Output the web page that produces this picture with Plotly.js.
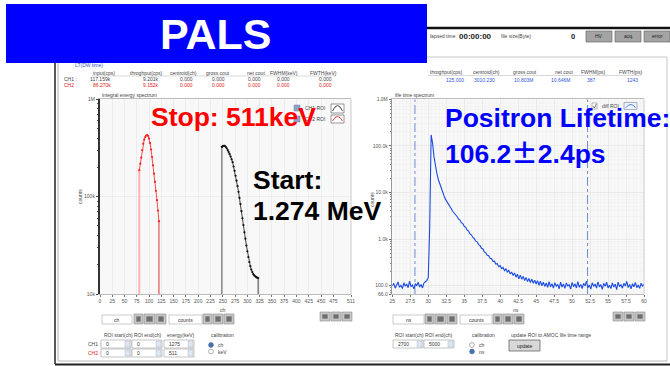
<!DOCTYPE html>
<html><head><meta charset="utf-8">
<script src="https://cdn.plot.ly/plotly-3.0.1.min.js"></script>
<style>html,body{margin:0;padding:0;background:#fff;}#c{width:670px;height:366px;}</style>
</head><body><div id="c"></div>
<script>
// ---------- data ----------
const chTicks = [0,25,50,75,100,125,150,175,200,225,250,275,300,325,350,375,400,425,450,475,511];
const nsTicks = [25,27.5,30,32.5,35,37.5,40,42.5,45,47.5,50,52.5,55,57.5,60];
const nsTickText = ['25','27.5','30','32.5','35','37.5','40','42.5','45','47.5','50','52.5','55','57.5','60'];
const ltTickVals = [66,100,1000,10000,100000,1000000];
const ltTickText = ['66.0','100.0','1.0k','10.0k','100.0k','1.0M'];
const enTickVals = [10000,100000,1000000];
const enTickText = ['10k','100k','1M'];

// CH2 (stop, 511 keV) ROI, channels 80..120, every 2 ch
const ch2Start = 80, chStep = 2;
const ch2Roi = [80,120];
const ch2Counts = [187000,218000,252000,300000,350000,385000,410000,425000,430000,420000,395000,355000,305000,255000,210000,172000,142000,115000,92000,72000,56000];
// CH1 (start, 1.274 MeV) ROI, channels 248..322, every 2 ch
const ch1Start = 248;
const ch1Roi = [248,322];
const ch1Counts = [324000,330000,333000,332000,325000,314000,300000,287000,273000,258000,242000,226000,204000,184000,164000,146000,128000,112000,97000,84000,71000,60000,51000,43000,37000,31500,27500,24000,21300,19300,17800,16800,16000,15500,15200,14900,14700,14600];

// life time spectrum, 25.0 .. 60.0 ns every 0.2 ns
const ltStart = 25, ltStep = 0.2;
const ltRoi = [28.15,52.15];
const ltCounts = [98,112,88,105,120,92,101,86,115,97,108,90,124,95,103,85,110,99,118,93,106,89,114,121,128,150,
1800,172000,115000,58000,36000,25500,19000,15200,12300,10100,
8400,7100,6200,5500,4850,4450,3950,3650,3250,3050,
2700,2550,2250,2150,1880,1790,1560,1480,1290,1230,
1080,1030,900,870,760,720,630,610,530,505,
450,440,385,380,330,335,290,295,255,268,
232,245,208,228,195,212,178,196,165,186,
152,175,140,168,136,158,128,150,122,142,
116,138,112,131,108,127,101,124,99,118,
96,114,92,121,94,110,88,116,97,106,
85,119,93,108,87,113,98,104,84,117,
95,109,89,122,92,106,86,112,99,125,
90,103,84,115,96,108,88,120,94,105,
83,111,97,118,89,102,86,114,93,107,
82,119,95,104,88,112,98,123,91,106,
85,110,94,117,90,103,87,113,96,108];

const headL = ['input(cps)','throghput(cps)','centroid(ch)','gross cout','net cout','FWHM(keV)','FWTH(keV)'];
const ch1Vals = ['117.159k','9.201k','0.000','0.000','0.000','0.000','0.000'];
const ch2Vals = ['86.270k','9.152k','0.000','0.000','0.000','0.000','0.000'];
const headR = ['throghput(cps)','centroid(ch)','gross cout','net cout','FWHM(ps)','FWTH(ps)'];
const valsR = ['125.000','3010.230','10.803M','10.646M','387','1243'];

// ---------- helpers (pixel -> paper) ----------
const W = 670, H = 366;
const fam = '"Liberation Sans", Arial, sans-serif';
const px = x => x / W, py = y => 1 - y / H;
const shapes = [], ann = [];
function rect(x0,y0,x1,y1,fill,lc,lw){shapes.push({type:'rect',xref:'paper',yref:'paper',x0:px(x0),x1:px(x1),y0:py(y1),y1:py(y0),fillcolor:fill,line:{color:lc||fill,width:lw===undefined?0.7:lw}});}
function seg(x0,y0,x1,y1,c,w,dash){shapes.push({type:'line',xref:'paper',yref:'paper',x0:px(x0),x1:px(x1),y0:py(y0),y1:py(y1),line:{color:c,width:w,dash:dash||'solid'}});}
function circ(cx,cy,r,fill,lc){shapes.push({type:'circle',xref:'paper',yref:'paper',x0:px(cx-r),x1:px(cx+r),y0:py(cy+r),y1:py(cy-r),fillcolor:fill,line:{color:lc,width:0.7}});}
function poly(pts,c,w){shapes.push({type:'path',xref:'paper',yref:'paper',path:'M'+pts.map(p=>px(p[0])+','+py(p[1])).join(' L'),line:{color:c,width:w}});}
function txt(x,y,s,size,color,anchor,bold,extra){const a={xref:'paper',yref:'paper',x:px(x),y:py(y),text:bold?'<b>'+s+'</b>':s,showarrow:false,xanchor:anchor||'left',yanchor:'middle',font:{family:fam,size:size,color:color||'#444'}};if(extra)Object.assign(a,extra);ann.push(a);}
function iconBtns(list,y0,y1){list.forEach(b=>{rect(b[0],y0,b[1],y1,'#c6c6c6','#8c8c8c',0.6);rect(b[0]+2.5,y0+2.5,b[1]-2.5,y1-2.5,'#6d6d6d','#6d6d6d',0.3);});}
function numBox(x0,x1,y0,y1,val){rect(x0,y0,x1,y1,'#ffffff','#a0a0a0',0.6);rect(x1-6,y0+1,x1-1,y1-1,'#dfe6f2','#9aa8c0',0.4);txt(x0+3,(y0+y1)/2,val,5,'#333');}

// ---------- GUI chrome ----------
seg(427,28,670,28,'#111',2.5);
txt(428,36.5,'lapsed time',5,'#444');
txt(457,36,'00:00:00',8,'#222','left',true);
txt(499,36.5,'file size(Byte)',5,'#444');
txt(569,36.5,'0',7.5,'#222','left',true);
[[586,612,'HV'],[615,641,'acq.'],[644,670,'error']].forEach(b=>{rect(b[0],31,b[1],42,'#a4a4a4','#6a6a6a',0.7);txt((b[0]+b[1])/2,36.5,b[2],5,'#222','center');});
seg(427,57,667,57,'#c8c8c8',1);
seg(667,57,667,361,'#c8c8c8',1);
seg(55,63,55,364,'#222',1.5);
seg(58,63,58,361,'#a0a0a0',0.8);
seg(58,361,667,361,'#b8b8b8',1);
seg(55,364.5,670,364.5,'#222',2);

// header table left
txt(73,65,'LT(DW time)',5,'#3355cc');
const hlx=[104,146,183,218,256,284,323];
const vlx=[113,161,195,227,263,292,334];
headL.forEach((h,i)=>txt(hlx[i],72.5,h,5,'#444','center'));
seg(92,76,336,76,'#b0b0b0',0.5);
txt(62,79.5,'CH1 :',5,'#444');
txt(62,85,'CH2 :',5,'#e02020');
ch1Vals.forEach((v,i)=>txt(vlx[i],79.5,v,5,'#444','right'));
ch2Vals.forEach((v,i)=>txt(vlx[i],85,v,5,'#e02020','right'));
// header table right
const hrx=[447,486.5,524.5,563.5,593,630.5];
const vrx=[466,497,535,572,598,640];
headR.forEach((h,i)=>txt(hrx[i],72,h,5,'#444','center'));
seg(428,75.5,641,75.5,'#b0b0b0',0.5);
valsR.forEach((v,i)=>txt(vrx[i],80,v,5,'#3355dd','right'));

// plot titles & axis titles
txt(100,95,'integral energy spectrum',5,'#444');
txt(393,95,'life time spectrum',5,'#444');
txt(80,197,'counts',5,'#444','center',false,{textangle:-90});
txt(372,200,'counts',5,'#444','center',false,{textangle:-90});
txt(223,309.5,'ch',5,'#444','center');
txt(516,309.5,'ns',5,'#444','center');

// legends
rect(294,105,300,111,'#8ea4c6','#6d84aa',0.5);
rect(294,116,300,122,'#8ea4c6','#6d84aa',0.5);
txt(303,108,'CH1 ROI',5,'#444');
txt(303,119,'CH2 ROI',5,'#444');
rect(331,104,344,113,'#ffffff','#555',0.6);
poly([[332.5,111],[335,107],[337.5,105.5],[340,107],[342.5,111]],'#111',0.8);
rect(331,115,344,123,'#ffffff','#555',0.6);
poly([[332.5,121],[335,117.5],[337.5,116.5],[340,117.5],[342.5,121]],'#e02020',0.8);
rect(592,103,597,109,'#ffffff','#777',0.5);
poly([[593,106],[594.3,108],[596.3,104]],'#333',0.6);
txt(600,106,'diff ROI',5,'#444');
rect(624,102.5,637,109.5,'#eef3fb','#7788aa',0.6);
poly([[625.5,108],[628.5,105],[631,104.5],[633.5,105.5],[635.5,108]],'#3366dd',0.8);

// controls under left plot
rect(102,315,132,324,'#fff','#a8a8a8',0.6); txt(117,319.5,'ch',5,'#333','center');
iconBtns([[134,143],[144,155],[156,166]],314,324);
rect(169,315,202,324,'#fff','#a8a8a8',0.6); txt(185.5,319.5,'counts',5,'#333','center');
iconBtns([[203,212],[213,223],[224,234]],314,324);
iconBtns([[320,330],[331,341],[342,352]],312,321);
txt(102,335,'ROI start(ch) ROI end(ch)',5,'#444');
txt(165,335,'energy(keV)',5,'#444');
txt(209,335,'calibration',5,'#444');
txt(86,344,'CH1 :',5,'#444');
txt(86,353,'CH2 :',5,'#e02020');
numBox(101,131,340,348,'0'); numBox(132,162,340,348,'0'); numBox(164,194,340,348,'1275');
numBox(101,131,349,357,'0'); numBox(132,162,349,357,'0'); numBox(164,194,349,357,'511');
circ(211,345,2.4,'#3f72b5','#56708f'); txt(215.5,345,'ch',5,'#444');
circ(211,351.5,2.4,'#ffffff','#8a8a8a'); txt(215.5,351.5,'keV',5,'#444');
// controls under right plot
rect(393,315,424,324,'#fff','#a8a8a8',0.6); txt(408.5,319.5,'ns',5,'#333','center');
iconBtns([[425,434],[435,446],[447,457]],314,324);
rect(460,315,492,324,'#fff','#a8a8a8',0.6); txt(476,319.5,'counts',5,'#333','center');
iconBtns([[493,502],[503,513],[514,524]],314,324);
iconBtns([[613,623],[624,634],[635,645]],312,321);
txt(393,335,'ROI start(ch) ROI end(ch)',5,'#444');
numBox(393,423,340,348,'2700'); numBox(424,454,340,348,'5000');
txt(470,335,'calibration',5,'#444');
circ(472,345,2.4,'#ffffff','#8a8a8a'); txt(476.5,345,'ch',5,'#444');
circ(472,351.5,2.4,'#3f72b5','#56708f'); txt(476.5,351.5,'ns',5,'#444');
txt(509,335,'update ROI to AMOC life time range',5,'#444');
rect(509,340,540,351,'#d8d8d8','#666',0.8); txt(524.5,345.5,'update',5,'#222','center');
// right borders of plots
seg(351,99.3,351,294,'#bdbdbd',0.8);
seg(644,99.3,644,294,'#bdbdbd',0.8);

// banner and big overlay texts
rect(6,4,427,63,'#0000ff','#0000ff',0);
txt(216,33.5,'PALS',43,'#ffffff','center',true);
txt(149,117,'Stop: 511keV',26.5,'#ff0000','left',true);
txt(251,179.5,'Start:',26.5,'#000000','left',true);
txt(251,211,'1.274 MeV',26.5,'#000000','left',true);
txt(443,118,'Positron Lifetime:',26.5,'#0000ff','left',true);
txt(443,151.5,'106.2<span style="font-family:\'Noto Sans CJK JP\'">±</span>2.4ps',26.5,'#0000ff','left',true);

// ---------- traces ----------
const traces = [
 {x:[ch2Roi[0],ch2Roi[0]], y:[1e4, ch2Counts[0]], mode:'lines', line:{color:'#ffb3b3',width:2}, xaxis:'x', yaxis:'y'},
 {x:[ch2Roi[1],ch2Roi[1]], y:[1e4, ch2Counts[ch2Counts.length-1]], mode:'lines', line:{color:'#e03030',width:1}, xaxis:'x', yaxis:'y'},
 {x:[ch1Roi[0],ch1Roi[0]], y:[1e4, ch1Counts[0]], mode:'lines', line:{color:'#808080',width:1.4}, xaxis:'x', yaxis:'y'},
 {x:[ch1Roi[1],ch1Roi[1]], y:[1e4, ch1Counts[ch1Counts.length-1]], mode:'lines', line:{color:'#606060',width:1.2}, xaxis:'x', yaxis:'y'},
 {x0:ch2Start, dx:chStep, y:ch2Counts, mode:'lines+markers', line:{color:'#ff2020',width:0.8}, marker:{color:'#ff2020',size:2.2}, xaxis:'x', yaxis:'y'},
 {x0:ch1Start, dx:chStep, y:ch1Counts, mode:'lines+markers', line:{color:'#111',width:0.8}, marker:{color:'#111',size:2.2}, xaxis:'x', yaxis:'y'},
 {x:[ltRoi[0],ltRoi[0]], y:[66,1e6], mode:'lines', line:{color:'#5b7fd0',width:0.9,dash:'dashdot'}, xaxis:'x2', yaxis:'y2'},
 {x:[ltRoi[1],ltRoi[1]], y:[66,1e6], mode:'lines', line:{color:'#5b7fd0',width:0.9,dash:'dashdot'}, xaxis:'x2', yaxis:'y2'},
 {x0:ltStart, dx:ltStep, y:ltCounts, mode:'lines', line:{color:'#1a4ae0',width:1.1}, xaxis:'x2', yaxis:'y2'}
];

const tickFont = {family:fam, size:5, color:'#555'};
const yDom = [1-294/H, 1-99.3/H];
const layout = {
 width:W, height:H, margin:{l:0,r:0,t:0,b:0}, paper_bgcolor:'#ffffff', plot_bgcolor:'#f8f8f8', showlegend:false,
 xaxis:{domain:[100/W,351/W], anchor:'y', range:[0,511], tickmode:'array', tickvals:chTicks, ticktext:chTicks.map(String),
   ticks:'outside', ticklen:2, tickcolor:'#777', tickfont:tickFont, showgrid:true, gridcolor:'#e6e6e6', gridwidth:0.6,
   showline:true, linecolor:'#aaa', linewidth:0.8, mirror:true, zeroline:false, fixedrange:true},
 yaxis:{domain:yDom, anchor:'x', type:'log', range:[4,6], tickmode:'array', tickvals:enTickVals, ticktext:enTickText,
   ticks:'outside', ticklen:2.5, tickcolor:'#444', tickfont:tickFont, showgrid:true, gridcolor:'#e6e6e6', gridwidth:0.6,
   minor:{ticks:'outside', ticklen:1.5, tickcolor:'#555', dtick:'D1', showgrid:false},
   showline:true, linecolor:'#333', linewidth:1.6, zeroline:false},
 xaxis2:{domain:[392.3/W,644/W], anchor:'y2', range:[25,60], tickmode:'array', tickvals:nsTicks, ticktext:nsTickText,
   ticks:'outside', ticklen:2, tickcolor:'#777', tickfont:tickFont, showgrid:true, gridcolor:'#e2e2e2', gridwidth:0.6,
   minor:{dtick:0.5, showgrid:true, gridcolor:'#efefef', gridwidth:0.5},
   showline:true, linecolor:'#aaa', linewidth:0.8, mirror:true, zeroline:false},
 yaxis2:{domain:yDom, anchor:'x2', type:'log', range:[Math.log10(66),6], tickmode:'array', tickvals:ltTickVals, ticktext:ltTickText,
   ticks:'outside', ticklen:2.5, tickcolor:'#666', tickfont:tickFont, showgrid:true, gridcolor:'#e2e2e2', gridwidth:0.6,
   minor:{ticks:'outside', ticklen:1.5, tickcolor:'#888', dtick:'D1', showgrid:true, gridcolor:'#f0f0f0', gridwidth:0.5},
   showline:true, linecolor:'#999', linewidth:1, zeroline:false},
 shapes:shapes, annotations:ann
};
Plotly.newPlot('c', traces, layout, {staticPlot:true, displayModeBar:false});
</script></body></html>
